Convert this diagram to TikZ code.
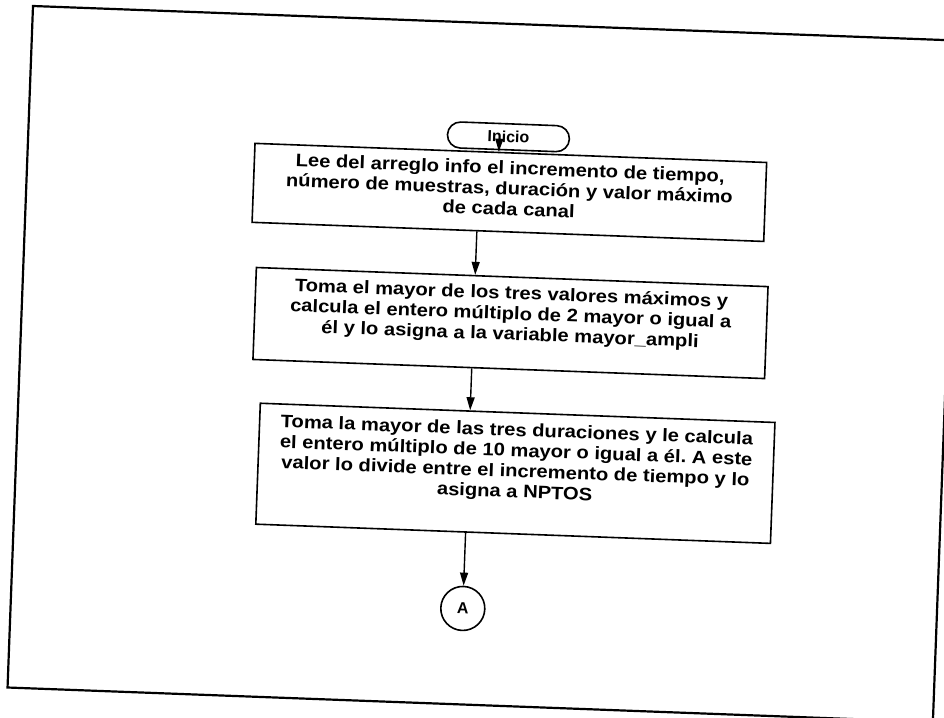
\documentclass[tikz,border=0pt]{standalone}
\usepackage{fontspec}
\setmainfont{Liberation Sans}
\usetikzlibrary{arrows.meta,shapes.misc}
\frenchspacing
\begin{document}
\begin{tikzpicture}[x=1pt,y=1pt,
  every node/.style={inner sep=0pt},
  boxtext/.style={font=\fontsize{18}{20.5}\selectfont\bfseries, align=center, xscale=1.12},
  procbox/.style={draw, line width=1.6pt, rectangle, minimum width=512pt},
  termbox/.style={draw, line width=1.6pt, rounded rectangle, minimum width=122pt, minimum height=26pt, font=\fontsize{16}{20}\selectfont\bfseries},
  connbox/.style={draw, line width=1.6pt, circle, minimum size=44pt, font=\fontsize{16}{20}\selectfont\bfseries},
  arr/.style={line width=1.4pt, -{Triangle[length=13pt,width=8pt]}},
  framebox/.style={line width=2.2pt}]
\useasboundingbox (0,0) rectangle (944,-717);
\clip (0,0) rectangle (944,-717);
\fill[white] (0,0) rectangle (944,-717);
\begin{scope}[shift={(33,-6)}, rotate=-2.14, transform shape]
  \draw[framebox] (0,0) rectangle (926,-682);
  \node[termbox] (ini) at (480,-113) {Inicio};
  \node[procbox, minimum height=79pt] (b1) at (483,-168.5) {};
  \node[boxtext] (t1) at ([yshift=4pt]b1.center) {Lee del arreglo info el incremento de tiempo,\\número de muestras, duración y valor máximo\\de cada canal};
  \node[procbox, minimum height=92pt] (b2) at (489,-299) {};
  \node[boxtext] (t2) at ([yshift=8pt]b2.center) {Toma el mayor de los tres valores máximos y\\calcula el entero múltiplo de 2 mayor o igual a\\él y lo asigna a la variable mayor\_ampli};
  \node[procbox, minimum width=515pt, minimum height=121pt] (b3) at (499.5,-449) {};
  \node[boxtext] (t3) at ([yshift=11pt]b3.center) {Toma la mayor de las tres duraciones y le calcula\\el entero múltiplo de 10 mayor o igual a él. A este\\valor lo divide entre el incremento de tiempo y lo\\asigna a NPTOS};
  \node[connbox] (A) at (452,-586) {A};
  \draw[arr] ([xshift=-9pt]ini.south) -- ([xshift=-9pt]ini.south |- b1.north);
  \draw[arr] (b1.south -| A) -- (b2.north -| A);
  \draw[arr] (b2.south -| A) -- (b3.north -| A);
  \draw[arr] (b3.south -| A) -- (A.north);
\end{scope}
\end{tikzpicture}
\end{document}
